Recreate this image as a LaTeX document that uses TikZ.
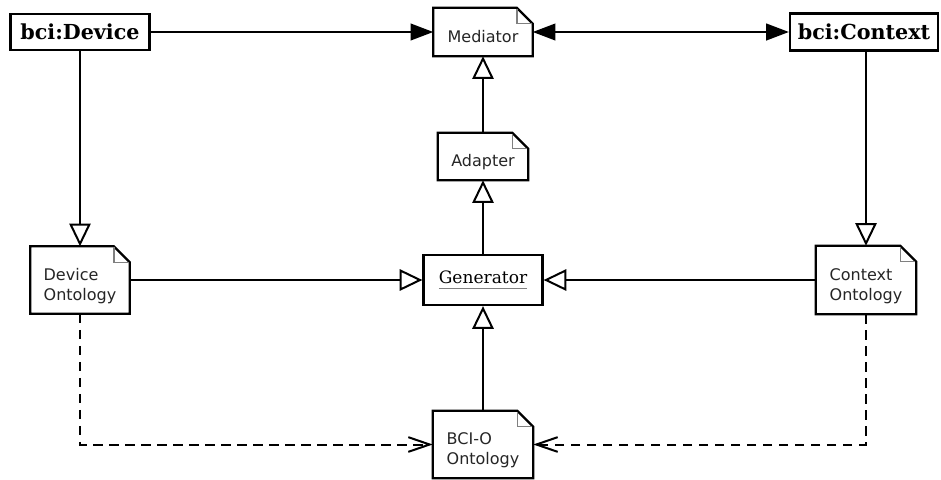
\documentclass[tikz,border=0pt]{standalone}
\usepackage{fontspec}
\setmainfont{DejaVu Serif}
\newfontfamily\notefont{DejaVu Sans}
\usetikzlibrary{arrows.meta}

% text block for notes, lowered a little below the middle
\newcommand\ntxt[1]{\raisebox{-4.5pt}[\height][\depth]{\begin{tabular}{@{}l@{}}#1\end{tabular}}}
% gray underline for the class name
\newcommand\grayul[1]{\setbox0\hbox{#1}\rlap{\color{gray}\rule[-4pt]{\wd0}{1pt}}\box0}

\tikzset{
  umlclass/.style={draw, line width=1.7pt, fill=white, inner sep=2pt,
    font=\fontsize{15.5}{18}\selectfont\bfseries},
  genclass/.style={draw, line width=1.7pt, fill=white, inner sep=2pt,
    font=\fontsize{12.8}{15}\selectfont},
  note/.style={draw=none, inner sep=2pt, text=black!85,
    font=\notefont\fontsize{12}{15}\selectfont,
    append after command={\pgfextra{
      \draw[line width=1.7pt, line join=miter, fill=white]
        (\tikzlastnode.north west) -- ([xshift=-12pt]\tikzlastnode.north east)
        -- ([yshift=-12pt]\tikzlastnode.north east)
        -- (\tikzlastnode.south east) -- (\tikzlastnode.south west) -- cycle;
      \draw[line width=1.1pt, gray]
        ([xshift=-12pt,yshift=-0.6pt]\tikzlastnode.north east)
        |- ([xshift=-0.6pt,yshift=-12pt]\tikzlastnode.north east);
    }}},
  link/.style={line width=1.5pt},
  assoc/.style={link, -{Triangle[length=17pt,width=12.5pt]}},
  biassoc/.style={link, {Triangle[length=17pt,width=12.5pt]}-{Triangle[length=17pt,width=12.5pt]}},
  realize/.style={link, -{Triangle[open,length=17pt,width=16pt,fill=white]}},
  depend/.style={link, dash pattern=on 7pt off 5pt, -{Straight Barb[length=16pt,width=11pt]}},
}

\begin{document}
\begin{tikzpicture}[x=0.75pt, y=-0.75pt]
  \useasboundingbox (0,0) rectangle (941,479);

  % classes
  \node[umlclass, minimum width=104.25pt, minimum height=27pt] (dev) at (80,32) {bci:Device};
  \node[umlclass, minimum width=111pt, minimum height=27.75pt] (ctx) at (864,32) {bci:Context};
  \node[genclass, minimum width=89.25pt, minimum height=37.5pt] (gen) at (483,280) {\grayul{Generator}};

  % notes
  \node[note, minimum width=74.25pt, minimum height=36pt] (med) at (483,32) {\ntxt{Mediator}};
  \node[note, minimum width=67.5pt, minimum height=35.25pt] (adp) at (483,156.5) {\ntxt{Adapter}};
  \node[note, minimum width=74.25pt, minimum height=50.25pt] (dont) at (80,280) {\ntxt{Device\\Ontology}};
  \node[note, minimum width=75pt, minimum height=51pt] (cont) at (866,280) {\ntxt{Context\\Ontology}};
  \node[note, minimum width=75pt, minimum height=50.25pt] (bcio) at (483,444.5) {\ntxt{BCI-O\\Ontology}};

  % associations
  \draw[assoc] (dev) -- (med);
  \draw[biassoc] (med) -- (ctx);

  % realizations
  \draw[realize] (adp) -- (med);
  \draw[realize] (gen) -- (adp);
  \draw[realize] (bcio) -- (gen);
  \draw[realize] (dont) -- (gen);
  \draw[realize] (cont) -- (gen);
  \draw[realize] (dev) -- (dev |- dont.north);
  \draw[realize] (ctx.south -| cont) -- (cont);

  % dependencies
  \draw[depend] (dont.south) |- (bcio.west);
  \draw[depend] (cont.south) |- (bcio.east);
\end{tikzpicture}
\end{document}
